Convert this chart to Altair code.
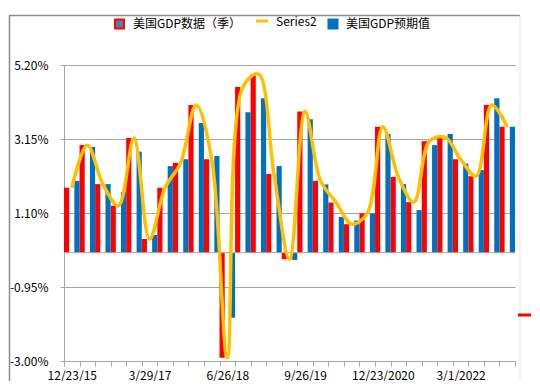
import altair as alt
import pandas as pd

# ---- data ----
idx = list(range(29))
gdp_actual = [1.80, 2.98, 1.90, 1.30, 3.18, 0.38, 1.80, 2.49, 4.09, 2.59,
              -2.91, 4.59, 4.95, 2.18, -0.18, 3.91, 1.99, 1.39, 0.79, 1.09,
              3.49, 2.10, 1.40, 3.09, 3.20, 2.59, 2.12, 4.09, 3.49]
gdp_forecast = [1.99, 2.93, 1.90, 1.69, 2.80, 0.49, 2.40, 2.59, 3.59, 2.68,
                -1.80, 3.89, 4.28, 2.40, -0.20, 3.70, 1.89, 0.99, 0.89, 1.09,
                3.29, 1.90, 1.18, 2.98, 3.29, 2.47, 2.29, 4.28, 3.49]
x_tick_labels = ["12/23/15", "3/29/17", "6/26/18", "9/26/19", "12/23/2020", "3/1/2022"]
y_ticks = [-3.00, -0.95, 1.10, 3.15, 5.20]
legend_names = ["美国GDP数据（季）", "Series2", "美国GDP预期值"]

RED = "#FF0000"
BLUE = "#0070C0"
YELLOW = "#FFC000"
GRID = "#A6A6A6"
FONT = "Noto Sans CJK SC"

bars_df = pd.DataFrame({
    "idx": idx + idx,
    "series": ["red"] * len(idx) + ["blue"] * len(idx),
    "value": gdp_actual + gdp_forecast,
})
line_df = pd.DataFrame({"idx": idx, "value": gdp_actual})
one = pd.DataFrame({"a": [0]})

label_arr = "[" + ",".join("'%s'" % s for s in x_tick_labels) + "]"
x_label_expr = "datum.value % 5 == 0 ? " + label_arr + "[datum.value / 5] : ''"

x_enc = alt.X(
    "idx:O",
    scale=alt.Scale(paddingInner=0, paddingOuter=0),
    axis=alt.Axis(
        title=None, labelAngle=0, values=idx, labelExpr=x_label_expr,
        tickBand="extent", grid=False, domainColor=GRID, tickColor=GRID,
        tickSize=5, labelPadding=4, labelOverlap=False,
        labelFont=FONT, labelFontSize=12, labelColor="#000000",
    ),
)
y_scale = alt.Scale(domain=[-3.0, 5.2], nice=False, zero=False)
y_axis = alt.Axis(
    title=None, values=y_ticks,
    labelExpr="replace(format(datum.value, '.2f'), '\u2212', '-') + '%'",
    grid=True, gridColor=GRID, domainColor=GRID, tickColor=GRID,
    tickSize=4, labelPadding=12, labelFont=FONT, labelFontSize=12,
    labelColor="#000000",
)

bars = alt.Chart(bars_df).mark_bar().encode(
    x=x_enc,
    xOffset=alt.XOffset("series:N", scale=alt.Scale(domain=["red", "gap", "blue"],
                                                     paddingInner=0, paddingOuter=0)),
    y=alt.Y("value:Q", scale=y_scale, axis=y_axis),
    y2=alt.datum(0),
    color=alt.Color("series:N", scale=alt.Scale(domain=["red", "blue"], range=[RED, BLUE]),
                    legend=None),
)

zero_rule = alt.Chart(one).mark_rule(color=GRID, strokeWidth=1).encode(y=alt.datum(0))

line = alt.Chart(line_df).mark_line(
    color=YELLOW, strokeWidth=3.5, interpolate="catmull-rom", clip=True
).encode(x="idx:O", y="value:Q")

# ---- legend (drawn by hand, like Excel's) ----
LY = -41
leg_sq1 = alt.Chart(one).mark_square(size=80, fill="#4A7EBB", stroke=RED, strokeWidth=2,
                                     opacity=1).encode(x=alt.value(55.5), y=alt.value(LY))
leg_t1 = alt.Chart(one).mark_text(align="left", baseline="middle", font=FONT, fontSize=12,
                                  color="#000000").encode(
    x=alt.value(69), y=alt.value(LY), text=alt.value(legend_names[0]))
leg_ln = alt.Chart(one).mark_rule(color=YELLOW, strokeWidth=3).encode(
    x=alt.value(192), x2=alt.value(204), y=alt.value(LY - 3))
leg_t2 = alt.Chart(one).mark_text(align="left", baseline="middle", font=FONT, fontSize=12,
                                  color="#000000").encode(
    x=alt.value(212), y=alt.value(LY - 2), text=alt.value(legend_names[1]))
leg_sq2 = alt.Chart(one).mark_square(size=121, fill=BLUE, opacity=1).encode(
    x=alt.value(269), y=alt.value(LY))
leg_t3 = alt.Chart(one).mark_text(align="left", baseline="middle", font=FONT, fontSize=12,
                                  color="#000000").encode(
    x=alt.value(282), y=alt.value(LY), text=alt.value(legend_names[2]))

# ---- chart-area frame remnants ----
frame_left = alt.Chart(one).mark_rule(color="#8C8C8C", strokeWidth=1.5).encode(
    x=alt.value(-54.5), y=alt.value(-49.5), y2=alt.value(316))
frame_top = alt.Chart(one).mark_rule(color="#8C8C8C", strokeWidth=1.5).encode(
    x=alt.value(-55), x2=alt.value(456), y=alt.value(-49.5))
frame_right = alt.Chart(one).mark_rule(color="#E6E6E6", strokeWidth=1).encode(
    x=alt.value(456), y=alt.value(-49.5), y2=alt.value(316))
red_stub = alt.Chart(one).mark_rule(color=RED, strokeWidth=3).encode(
    x=alt.value(454), x2=alt.value(467), y=alt.value(250))

chart = alt.layer(
    bars, zero_rule, line,
    leg_sq1, leg_t1, leg_ln, leg_t2, leg_sq2, leg_t3,
    frame_left, frame_top, frame_right, red_stub,
).properties(
    width=451, height=296,
    padding={"left": 56, "top": 57, "right": 16, "bottom": 20},
    autosize=alt.AutoSizeParams(type="none"),
    background="#FFFFFF",
).configure_view(strokeWidth=0)

chart.save("out.html", embed_options={"renderer": "svg", "actions": False})
